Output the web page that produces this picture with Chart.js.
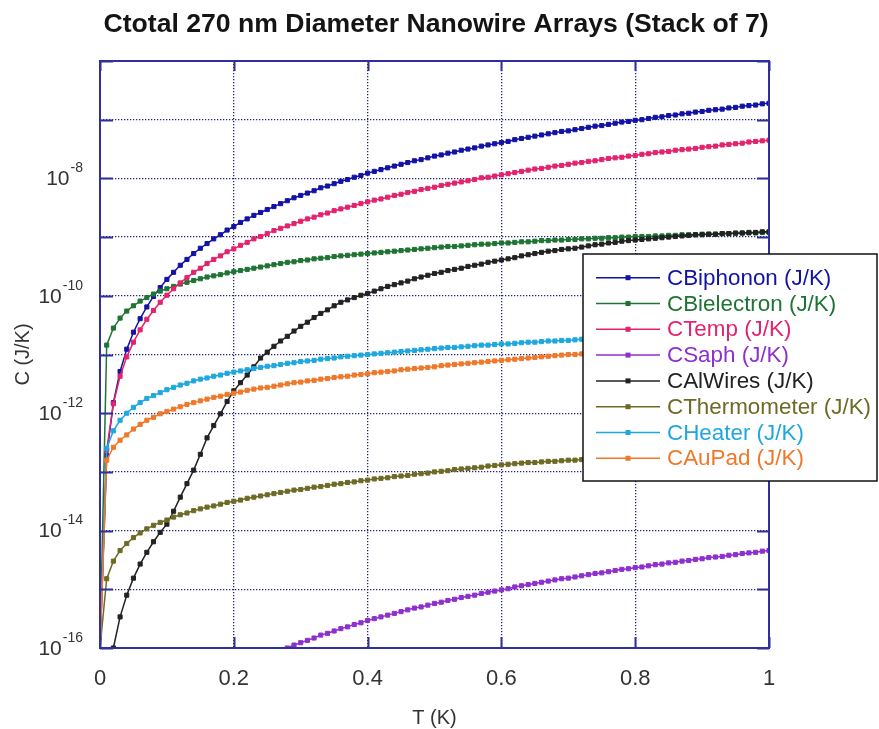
<!DOCTYPE html>
<html>
<head>
<meta charset="utf-8">
<script src="https://cdn.jsdelivr.net/npm/chart.js@4.4.1/dist/chart.umd.min.js"></script>
<style>
  html, body { margin: 0; padding: 0; background: #ffffff; }
  #wrap { width: 879px; height: 729px; }
</style>
</head>
<body>
<div id="wrap"><canvas id="chart" width="879" height="729"></canvas></div>
<script>
// Temperature grid (K)
const temps = [0,
  0.01,0.02,0.03,0.04,0.05,0.06,0.07,0.08,0.09,0.10,
  0.11,0.12,0.13,0.14,0.15,0.16,0.17,0.18,0.19,0.20,
  0.21,0.22,0.23,0.24,0.25,0.26,0.27,0.28,0.29,0.30,
  0.31,0.32,0.33,0.34,0.35,0.36,0.37,0.38,0.39,0.40,
  0.41,0.42,0.43,0.44,0.45,0.46,0.47,0.48,0.49,0.50,
  0.51,0.52,0.53,0.54,0.55,0.56,0.57,0.58,0.59,0.60,
  0.61,0.62,0.63,0.64,0.65,0.66,0.67,0.68,0.69,0.70,
  0.71,0.72,0.73,0.74,0.75,0.76,0.77,0.78,0.79,0.80,
  0.81,0.82,0.83,0.84,0.85,0.86,0.87,0.88,0.89,0.90,
  0.91,0.92,0.93,0.94,0.95,0.96,0.97,0.98,0.99,1.00];

// Heat capacities, stored as log10(C / (J/K)); -Infinity means C = 0 at T = 0
const logBiphonon = [-Infinity,
  -12.72,-11.82,-11.29,-10.91,-10.62,-10.39,-10.19,-10.01,-9.86,-9.72,
  -9.60,-9.48,-9.38,-9.28,-9.19,-9.11,-9.03,-8.96,-8.88,-8.82,
  -8.75,-8.69,-8.63,-8.58,-8.53,-8.48,-8.43,-8.38,-8.33,-8.29,
  -8.25,-8.21,-8.16,-8.13,-8.09,-8.05,-8.02,-7.98,-7.95,-7.91,
  -7.88,-7.85,-7.82,-7.79,-7.76,-7.73,-7.70,-7.68,-7.65,-7.62,
  -7.60,-7.57,-7.55,-7.52,-7.50,-7.48,-7.45,-7.43,-7.41,-7.39,
  -7.37,-7.34,-7.32,-7.30,-7.28,-7.26,-7.24,-7.22,-7.20,-7.19,
  -7.17,-7.15,-7.13,-7.11,-7.10,-7.08,-7.06,-7.04,-7.03,-7.01,
  -7.00,-6.98,-6.96,-6.95,-6.93,-6.92,-6.90,-6.89,-6.87,-6.86,
  -6.84,-6.83,-6.82,-6.80,-6.79,-6.77,-6.76,-6.75,-6.73,-6.72];

const logBielectron = [-Infinity,
  -10.84,-10.55,-10.38,-10.26,-10.17,-10.09,-10.03,-9.97,-9.92,-9.88,
  -9.84,-9.80,-9.77,-9.74,-9.71,-9.68,-9.66,-9.64,-9.61,-9.59,
  -9.57,-9.55,-9.53,-9.51,-9.49,-9.47,-9.45,-9.43,-9.42,-9.40,
  -9.39,-9.37,-9.36,-9.35,-9.33,-9.32,-9.31,-9.30,-9.29,-9.28,
  -9.27,-9.26,-9.25,-9.24,-9.23,-9.22,-9.21,-9.20,-9.19,-9.18,
  -9.17,-9.16,-9.16,-9.15,-9.14,-9.13,-9.12,-9.12,-9.11,-9.10,
  -9.10,-9.09,-9.08,-9.08,-9.07,-9.06,-9.06,-9.05,-9.05,-9.04,
  -9.04,-9.03,-9.03,-9.02,-9.02,-9.01,-9.01,-9.00,-9.00,-8.99,
  -8.99,-8.99,-8.98,-8.98,-8.97,-8.97,-8.96,-8.96,-8.96,-8.95,
  -8.95,-8.95,-8.94,-8.94,-8.94,-8.93,-8.93,-8.93,-8.92,-8.92];

const logTemp = [-Infinity,
  -12.63,-11.84,-11.37,-11.04,-10.79,-10.58,-10.40,-10.25,-10.11,-9.99,
  -9.88,-9.78,-9.69,-9.60,-9.53,-9.45,-9.38,-9.32,-9.25,-9.20,
  -9.14,-9.09,-9.03,-8.99,-8.94,-8.89,-8.85,-8.81,-8.77,-8.73,
  -8.69,-8.66,-8.62,-8.59,-8.55,-8.52,-8.49,-8.46,-8.43,-8.40,
  -8.37,-8.35,-8.32,-8.29,-8.27,-8.24,-8.22,-8.19,-8.17,-8.15,
  -8.12,-8.10,-8.08,-8.06,-8.04,-8.02,-7.99,-7.98,-7.96,-7.94,
  -7.92,-7.90,-7.88,-7.86,-7.84,-7.83,-7.81,-7.79,-7.78,-7.76,
  -7.74,-7.73,-7.71,-7.70,-7.68,-7.66,-7.65,-7.64,-7.62,-7.61,
  -7.59,-7.58,-7.56,-7.55,-7.54,-7.52,-7.51,-7.50,-7.49,-7.47,
  -7.46,-7.45,-7.43,-7.42,-7.41,-7.40,-7.38,-7.37,-7.36,-7.35];

const logSaph = [-Infinity,
  -20.34,-19.44,-18.91,-18.53,-18.24,-18.01,-17.81,-17.63,-17.48,-17.34,
  -17.22,-17.10,-17.00,-16.90,-16.81,-16.73,-16.65,-16.58,-16.50,-16.44,
  -16.37,-16.31,-16.25,-16.20,-16.15,-16.10,-16.05,-16.00,-15.95,-15.91,
  -15.87,-15.83,-15.78,-15.75,-15.71,-15.67,-15.64,-15.60,-15.57,-15.53,
  -15.50,-15.47,-15.44,-15.41,-15.38,-15.35,-15.32,-15.30,-15.27,-15.24,
  -15.22,-15.19,-15.17,-15.14,-15.12,-15.10,-15.07,-15.05,-15.03,-15.01,
  -14.99,-14.96,-14.94,-14.92,-14.90,-14.88,-14.86,-14.84,-14.82,-14.81,
  -14.79,-14.77,-14.75,-14.73,-14.72,-14.70,-14.68,-14.66,-14.65,-14.63,
  -14.62,-14.60,-14.58,-14.57,-14.55,-14.54,-14.52,-14.51,-14.49,-14.48,
  -14.46,-14.45,-14.44,-14.42,-14.41,-14.39,-14.38,-14.37,-14.35,-14.34];

const logAlWires = [-Infinity,
  -16.90,-16.00,-15.47,-15.10,-14.81,-14.57,-14.37,-14.19,-14.03,-13.89,
  -13.67,-13.43,-13.20,-12.97,-12.70,-12.42,-12.21,-12.01,-11.80,-11.62,
  -11.48,-11.35,-11.21,-11.06,-10.96,-10.86,-10.77,-10.69,-10.60,-10.52,
  -10.45,-10.37,-10.30,-10.24,-10.17,-10.11,-10.07,-10.03,-9.99,-9.96,
  -9.92,-9.88,-9.84,-9.81,-9.78,-9.75,-9.71,-9.68,-9.65,-9.62,
  -9.60,-9.57,-9.55,-9.53,-9.50,-9.48,-9.46,-9.43,-9.41,-9.39,
  -9.37,-9.35,-9.32,-9.30,-9.28,-9.26,-9.24,-9.23,-9.21,-9.20,
  -9.19,-9.17,-9.15,-9.13,-9.12,-9.10,-9.09,-9.07,-9.06,-9.05,
  -9.04,-9.03,-9.02,-9.01,-9.00,-8.99,-8.98,-8.97,-8.96,-8.96,
  -8.95,-8.95,-8.94,-8.94,-8.93,-8.93,-8.92,-8.92,-8.91,-8.91];

const logThermometer = [-Infinity,
  -14.82,-14.52,-14.34,-14.22,-14.12,-14.04,-13.97,-13.91,-13.86,-13.82,
  -13.77,-13.73,-13.70,-13.66,-13.63,-13.60,-13.58,-13.55,-13.52,-13.50,
  -13.48,-13.45,-13.43,-13.41,-13.39,-13.37,-13.35,-13.33,-13.31,-13.30,
  -13.28,-13.26,-13.25,-13.23,-13.21,-13.20,-13.18,-13.17,-13.15,-13.14,
  -13.12,-13.11,-13.10,-13.08,-13.07,-13.06,-13.04,-13.03,-13.02,-13.00,
  -12.99,-12.98,-12.96,-12.95,-12.94,-12.93,-12.92,-12.90,-12.89,-12.88,
  -12.87,-12.86,-12.85,-12.84,-12.84,-12.83,-12.82,-12.82,-12.81,-12.80,
  -12.80,-12.79,-12.78,-12.78,-12.77,-12.76,-12.76,-12.75,-12.74,-12.74,
  -12.73,-12.72,-12.72,-12.71,-12.70,-12.70,-12.69,-12.68,-12.68,-12.67,
  -12.66,-12.66,-12.65,-12.65,-12.64,-12.64,-12.63,-12.63,-12.62,-12.62];

const logHeater = [-Infinity,
  -12.60,-12.30,-12.12,-12.00,-11.90,-11.82,-11.75,-11.70,-11.65,-11.60,
  -11.56,-11.52,-11.49,-11.45,-11.42,-11.40,-11.37,-11.35,-11.32,-11.30,
  -11.28,-11.26,-11.24,-11.22,-11.20,-11.19,-11.17,-11.15,-11.14,-11.12,
  -11.11,-11.10,-11.08,-11.07,-11.06,-11.04,-11.03,-11.02,-11.01,-11.00,
  -10.99,-10.98,-10.97,-10.96,-10.95,-10.94,-10.93,-10.92,-10.91,-10.90,
  -10.89,-10.88,-10.88,-10.87,-10.86,-10.85,-10.84,-10.84,-10.83,-10.82,
  -10.82,-10.81,-10.80,-10.79,-10.79,-10.78,-10.77,-10.77,-10.76,-10.76,
  -10.75,-10.74,-10.74,-10.73,-10.73,-10.72,-10.71,-10.71,-10.70,-10.70,
  -10.69,-10.69,-10.68,-10.68,-10.67,-10.67,-10.66,-10.66,-10.65,-10.65,
  -10.64,-10.64,-10.63,-10.63,-10.62,-10.62,-10.61,-10.61,-10.60,-10.60];

const logAuPad = [-Infinity,
  -12.80,-12.58,-12.46,-12.37,-12.27,-12.19,-12.12,-12.07,-12.01,-11.97,
  -11.93,-11.89,-11.85,-11.82,-11.79,-11.76,-11.73,-11.71,-11.68,-11.66,
  -11.64,-11.61,-11.59,-11.57,-11.56,-11.54,-11.52,-11.50,-11.48,-11.47,
  -11.45,-11.44,-11.42,-11.41,-11.39,-11.38,-11.37,-11.35,-11.34,-11.33,
  -11.31,-11.30,-11.29,-11.28,-11.26,-11.25,-11.24,-11.23,-11.22,-11.21,
  -11.19,-11.18,-11.17,-11.16,-11.15,-11.14,-11.13,-11.12,-11.11,-11.10,
  -11.09,-11.08,-11.07,-11.06,-11.05,-11.04,-11.03,-11.02,-11.01,-11.00,
  -11.00,-10.99,-10.98,-10.97,-10.96,-10.95,-10.94,-10.93,-10.92,-10.92,
  -10.91,-10.90,-10.89,-10.88,-10.87,-10.86,-10.86,-10.85,-10.84,-10.83,
  -10.82,-10.82,-10.81,-10.80,-10.79,-10.78,-10.78,-10.77,-10.76,-10.75];

const seriesLabels = ['CBiphonon (J/K)', 'CBielectron (J/K)', 'CTemp (J/K)', 'CSaph (J/K)',
                      'CAlWires (J/K)', 'CThermometer (J/K)', 'CHeater (J/K)', 'CAuPad (J/K)'];
const seriesLogValues = [logBiphonon, logBielectron, logTemp, logSaph,
                         logAlWires, logThermometer, logHeater, logAuPad];

// Axis ticks
const tTicks = [0, 0.2, 0.4, 0.6, 0.8, 1];
const decadeExponents = [-16, -15, -14, -13, -12, -11, -10, -9, -8, -7, -6];
const labelledExponents = [-16, -14, -12, -10, -8];
const C_MIN = 1e-16, C_MAX = 1e-6;

const chartTitle = 'Ctotal 270 nm Diameter Nanowire Arrays (Stack of 7)';
const xTitle = 'T (K)';
const yTitle = 'C (J/K)';

// Styling
const seriesColors = ['#1212a6', '#1f7434', '#e3236e', '#8e2fcf',
                      '#222222', '#6e6a26', '#1ea8df', '#f0782a'];
const FONT = '"Liberation Sans", Arial, Helvetica, sans-serif';
const frameColor = '#2f2f9e';
const gridColor = '#24247e';
const textColor = '#333333';

// A zero heat capacity cannot sit on a log axis: it is drawn on the axis floor.
const toCapacity = lg => (lg === -Infinity ? C_MIN : Math.pow(10, lg));

// Frame, inner tick marks, superscript decade labels, legend box and title
const decorations = {
  id: 'decorations',
  afterDatasetsDraw(chart) {
    const { ctx, chartArea: a, scales } = chart;
    const xs = scales.x, ys = scales.y;

    ctx.save();
    ctx.strokeStyle = frameColor;
    ctx.lineWidth = 2;
    ctx.beginPath();
    decadeExponents.forEach(e => {
      const y = Math.round(ys.getPixelForValue(Math.pow(10, e))) + 0.5;
      ctx.moveTo(a.left, y); ctx.lineTo(a.left + 13, y);
      ctx.moveTo(a.right - 12, y); ctx.lineTo(a.right, y);
    });
    tTicks.forEach(t => {
      const x = Math.round(xs.getPixelForValue(t)) + 0.5;
      ctx.moveTo(x, a.bottom); ctx.lineTo(x, a.bottom - 11);
      ctx.moveTo(x, a.top); ctx.lineTo(x, a.top + 10);
    });
    ctx.stroke();
    ctx.strokeRect(a.left, a.top, a.right - a.left, a.bottom - a.top);
    ctx.restore();

    // decade labels with superscript exponent
    ctx.save();
    ctx.fillStyle = textColor;
    ctx.textBaseline = 'middle';
    ctx.textAlign = 'right';
    labelledExponents.forEach(e => {
      const y = ys.getPixelForValue(Math.pow(10, e));
      const expText = '-' + Math.abs(e);
      ctx.font = '14px ' + FONT;
      const w = ctx.measureText(expText).width;
      const rightEdge = a.left - 17;
      ctx.fillText(expText, rightEdge, y - 10);
      ctx.font = '21px ' + FONT;
      ctx.fillText('10', rightEdge - w - 1, y + 1);
    });
    ctx.restore();

    // legend
    const box = { left: 583, top: 254, right: 877, bottom: 481 };
    ctx.save();
    ctx.fillStyle = '#ffffff';
    ctx.fillRect(box.left, box.top, box.right - box.left, box.bottom - box.top);
    ctx.strokeStyle = '#111111';
    ctx.lineWidth = 1.5;
    ctx.strokeRect(box.left, box.top, box.right - box.left, box.bottom - box.top);
    ctx.font = '22.4px ' + FONT;
    ctx.textBaseline = 'middle';
    ctx.textAlign = 'left';
    chart.data.datasets.forEach((ds, i) => {
      const y = 277.7 + i * 25.8;
      ctx.strokeStyle = ds.borderColor;
      ctx.lineWidth = 1.5;
      ctx.beginPath();
      ctx.moveTo(596, y); ctx.lineTo(660, y);
      ctx.stroke();
      ctx.fillStyle = ds.borderColor;
      ctx.fillRect(625.5, y - 2.5, 5, 5);
      ctx.fillText(ds.label, 667, y + 1);
    });
    ctx.restore();
  },
  afterDraw(chart) {
    const { ctx } = chart;
    ctx.save();
    ctx.fillStyle = '#141414';
    ctx.font = 'bold 26.6px ' + FONT;
    ctx.textAlign = 'center';
    ctx.textBaseline = 'middle';
    ctx.fillText(chartTitle, 436, 25);
    ctx.restore();
  }
};

const datasets = seriesLogValues.map((vals, i) => ({
  label: seriesLabels[i],
  data: temps.map((t, j) => ({ x: t, y: toCapacity(vals[j]) })),
  borderColor: seriesColors[i],
  backgroundColor: seriesColors[i],
  borderWidth: 1.5,
  pointStyle: 'rect',
  pointRadius: c => (c.dataIndex === 0) ? 0 : 2.9,
  pointBorderWidth: 1,
  pointHoverRadius: 0,
  tension: 0,
  fill: false,
  order: seriesLabels.length - i
}));

new Chart(document.getElementById('chart'), {
  type: 'line',
  data: { datasets },
  options: {
    responsive: false,
    animation: false,
    devicePixelRatio: 1,
    layout: { padding: { top: 61, right: 110, bottom: 0, left: 0 } },
    plugins: { legend: { display: false }, title: { display: false }, tooltip: { enabled: false } },
    events: [],
    scales: {
      x: {
        type: 'linear', min: 0, max: 1,
        afterBuildTicks: s => { s.ticks = tTicks.map(v => ({ value: v })); },
        afterFit: s => { s.height = 81; },
        ticks: { padding: 18, autoSkip: false, maxRotation: 0, color: textColor,
                 font: { family: FONT, size: 22 }, callback: v => String(v) },
        grid: { color: gridColor, lineWidth: 1.3, drawTicks: false },
        border: { display: false, dash: [1.3, 1.7] },
        title: { display: true, text: xTitle, color: textColor,
                 font: { family: FONT, size: 20, lineHeight: 1 }, padding: { top: 0, bottom: 1 } }
      },
      y: {
        type: 'logarithmic', min: C_MIN, max: C_MAX,
        afterBuildTicks: s => { s.ticks = decadeExponents.map(e => ({ value: Math.pow(10, e) })); },
        afterFit: s => { s.width = 100; },
        ticks: { display: false },
        grid: { color: gridColor, lineWidth: 1.3, drawTicks: false },
        border: { display: false, dash: [1.3, 1.7] },
        title: { display: true, text: yTitle, color: textColor,
                 font: { family: FONT, size: 20, lineHeight: 1 }, padding: { top: 13, bottom: 0 } }
      }
    }
  },
  plugins: [decorations]
});
</script>
</body>
</html>
